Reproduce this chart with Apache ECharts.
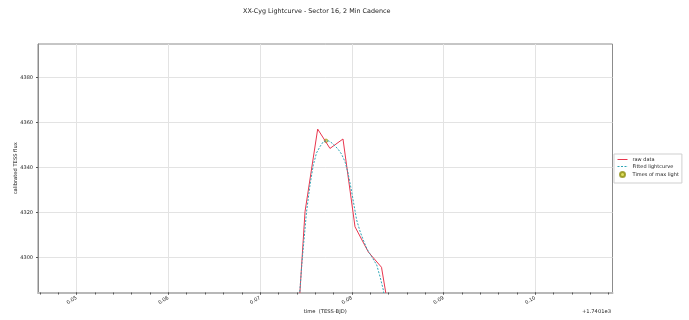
<!DOCTYPE html>
<html>
<head>
<meta charset="utf-8">
<title>XX-Cyg Lightcurve</title>
<script src="https://cdn.jsdelivr.net/npm/echarts@6/dist/echarts.min.js"></script>
<style>
  html, body { margin: 0; padding: 0; background: #fff; }
  #chart { width: 689px; height: 320px; }
</style>
</head>
<body>
<div id="chart"></div>
<script>
// times are offsets from 1740.1 TESS-BJD (the "+1.7401e3" under the axis)
const rawTime = [0.07351, 0.07490, 0.07628, 0.07762, 0.07904, 0.08035, 0.08180, 0.08324, 0.08466];
const rawFlux = [4231.0, 4320.3, 4357.0, 4348.4, 4352.6, 4313.6, 4302.4, 4295.6, 4261.0];

const fitTime = [0.07402, 0.07457, 0.07506, 0.07544, 0.07580, 0.07615, 0.07653, 0.07686,
                 0.07719, 0.07751, 0.07784, 0.07817, 0.07850, 0.07888, 0.07926, 0.07959,
                 0.07991, 0.08024, 0.08053, 0.08089, 0.08125, 0.08166, 0.08217, 0.08272,
                 0.08308, 0.08344, 0.08384];
const fitFlux = [4267.7, 4297.9, 4320.1, 4332.1, 4341.0, 4346.4, 4349.2, 4351.2,
                 4351.8, 4351.7, 4350.8, 4349.5, 4348.1, 4345.9, 4342.5, 4337.5,
                 4330.8, 4323.2, 4316.6, 4311.7, 4307.7, 4303.7, 4300.3, 4296.6,
                 4291.4, 4285.5, 4271.2];

const maxTime = [0.07719];
const maxFlux = [4351.8];

const xTicks = [0.05, 0.06, 0.07, 0.08, 0.09, 0.10];
const xMinorTicks = [0.046, 0.048, 0.050, 0.052, 0.054, 0.056, 0.058, 0.060, 0.062, 0.064,
                     0.066, 0.068, 0.070, 0.072, 0.074, 0.076, 0.078, 0.080, 0.082, 0.084,
                     0.086, 0.088, 0.090, 0.092, 0.094, 0.096, 0.098, 0.100, 0.102, 0.104,
                     0.106, 0.108];
const yTicks = [4300, 4320, 4340, 4360, 4380];

const X_MIN = 0.04578, X_MAX = 0.10843;
const Y_MIN = 4284.4, Y_MAX = 4394.8;

const FONT = 'DejaVu Sans';
const txt = '#222';
const RED = '#e8364e', TEAL = '#2ea5b6';

let chart = echarts.init(document.getElementById('chart'));

const option = {
  animation: false,
  backgroundColor: '#fff',
  textStyle: { fontFamily: FONT },
  title: {
    text: 'XX-Cyg Lightcurve - Sector 16, 2 Min Cadence',
    left: 243,
    top: 8,
    padding: 0,
    textStyle: { fontFamily: FONT, fontSize: 6.4, fontWeight: 'normal', color: txt }
  },
  grid: {
    left: 38, right: 76.5, top: 44, bottom: 27.5,
    show: true, borderColor: '#8c8c8c', borderWidth: 1,
    containLabel: false, outerBoundsMode: 'none'
  },
  legend: {
    orient: 'vertical',
    left: 614, top: 154,
    padding: [3, 3, 5, 3],
    itemWidth: 10, itemHeight: 5, itemGap: 2,
    borderColor: '#cfcfcf', borderWidth: 1,
    backgroundColor: '#fff',
    symbolKeepAspect: true,
    textStyle: { fontFamily: FONT, fontSize: 5, color: txt },
    data: [
      { name: 'raw data', icon: 'line',
        itemStyle: { color: RED, borderWidth: 1, borderColor: RED } },
      // thin dashed bar for the fitted curve sample
      { name: 'Fitted lightcurve', icon: 'path://M0,0H2V1.1H0Z M3.5,0H5.5V1.1H3.5Z M7,0H9V1.1H7Z M9.9,0H10V1.1H9.9Z',
        itemStyle: { color: TEAL, borderWidth: 0, borderColor: TEAL } },
      { name: 'Times of max light', icon: 'circle' }
    ]
  },
  xAxis: [
    {
      type: 'value', min: X_MIN, max: X_MAX, position: 'bottom',
      name: 'time  (TESS-BJD)', nameLocation: 'middle', nameGap: 17, nameMoveOverlap: false,
      nameTextStyle: { fontFamily: FONT, fontSize: 5.2, color: txt },
      axisLine: { show: true, onZero: false, lineStyle: { color: '#b8b8b8', width: 2 } },
      axisTick: { show: true, customValues: xTicks, length: 2, lineStyle: { color: '#555' } },
      axisLabel: {
        customValues: xTicks, rotate: 30, margin: 5,
        fontFamily: FONT, fontSize: 5, color: txt,
        formatter: v => v.toFixed(2)
      },
      splitLine: { show: true, lineStyle: { color: '#e3e3e3', width: 1 } }
    },
    {
      type: 'value', min: X_MIN, max: X_MAX, position: 'bottom',
      axisLine: { show: false, onZero: false },
      axisTick: { show: true, customValues: xMinorTicks, length: 2, lineStyle: { color: '#555' } },
      axisLabel: { show: false },
      splitLine: { show: false }
    }
  ],
  yAxis: {
    type: 'value', min: Y_MIN, max: Y_MAX,
    name: 'calibrated TESS flux', nameLocation: 'middle', nameGap: 20, nameRotate: 90,
    nameMoveOverlap: false,
    nameTextStyle: { fontFamily: FONT, fontSize: 5.2, color: txt },
    axisLine: { show: true, onZero: false, lineStyle: { color: '#8c8c8c', width: 1 } },
    axisTick: { show: true, customValues: yTicks, length: 2, lineStyle: { color: '#555' } },
    axisLabel: {
      customValues: yTicks, margin: 5, fontFamily: FONT, fontSize: 5, color: txt,
      formatter: v => String(v)
    },
    splitLine: { show: true, lineStyle: { color: '#e3e3e3', width: 1 } }
  },
  graphic: [
    {
      type: 'text', right: 78, top: 309,
      style: { text: '+1.7401e3', fontFamily: FONT, fontSize: 5.2, fill: txt }
    }
  ],
  series: [
    {
      name: 'raw data', type: 'line', xAxisIndex: 0,
      data: rawTime.map((t, i) => [t, rawFlux[i]]),
      symbol: 'none', clip: true,
      lineStyle: { color: RED, width: 1 },
      itemStyle: { color: RED }
    },
    {
      name: 'Fitted lightcurve', type: 'line', xAxisIndex: 0,
      data: fitTime.map((t, i) => [t, fitFlux[i]]),
      symbol: 'none', clip: true,
      lineStyle: { color: TEAL, width: 1, type: [2, 1.5] },
      itemStyle: { color: TEAL }
    },
    {
      name: 'Times of max light', type: 'scatter', xAxisIndex: 0,
      data: maxTime.map((t, i) => [t, maxFlux[i]]),
      symbol: 'circle', symbolSize: 3.5,
      itemStyle: { color: '#d6d63a', borderColor: '#8f8f12', borderWidth: 0.8 }
    }
  ]
};

chart.setOption(option);
</script>
</body>
</html>
